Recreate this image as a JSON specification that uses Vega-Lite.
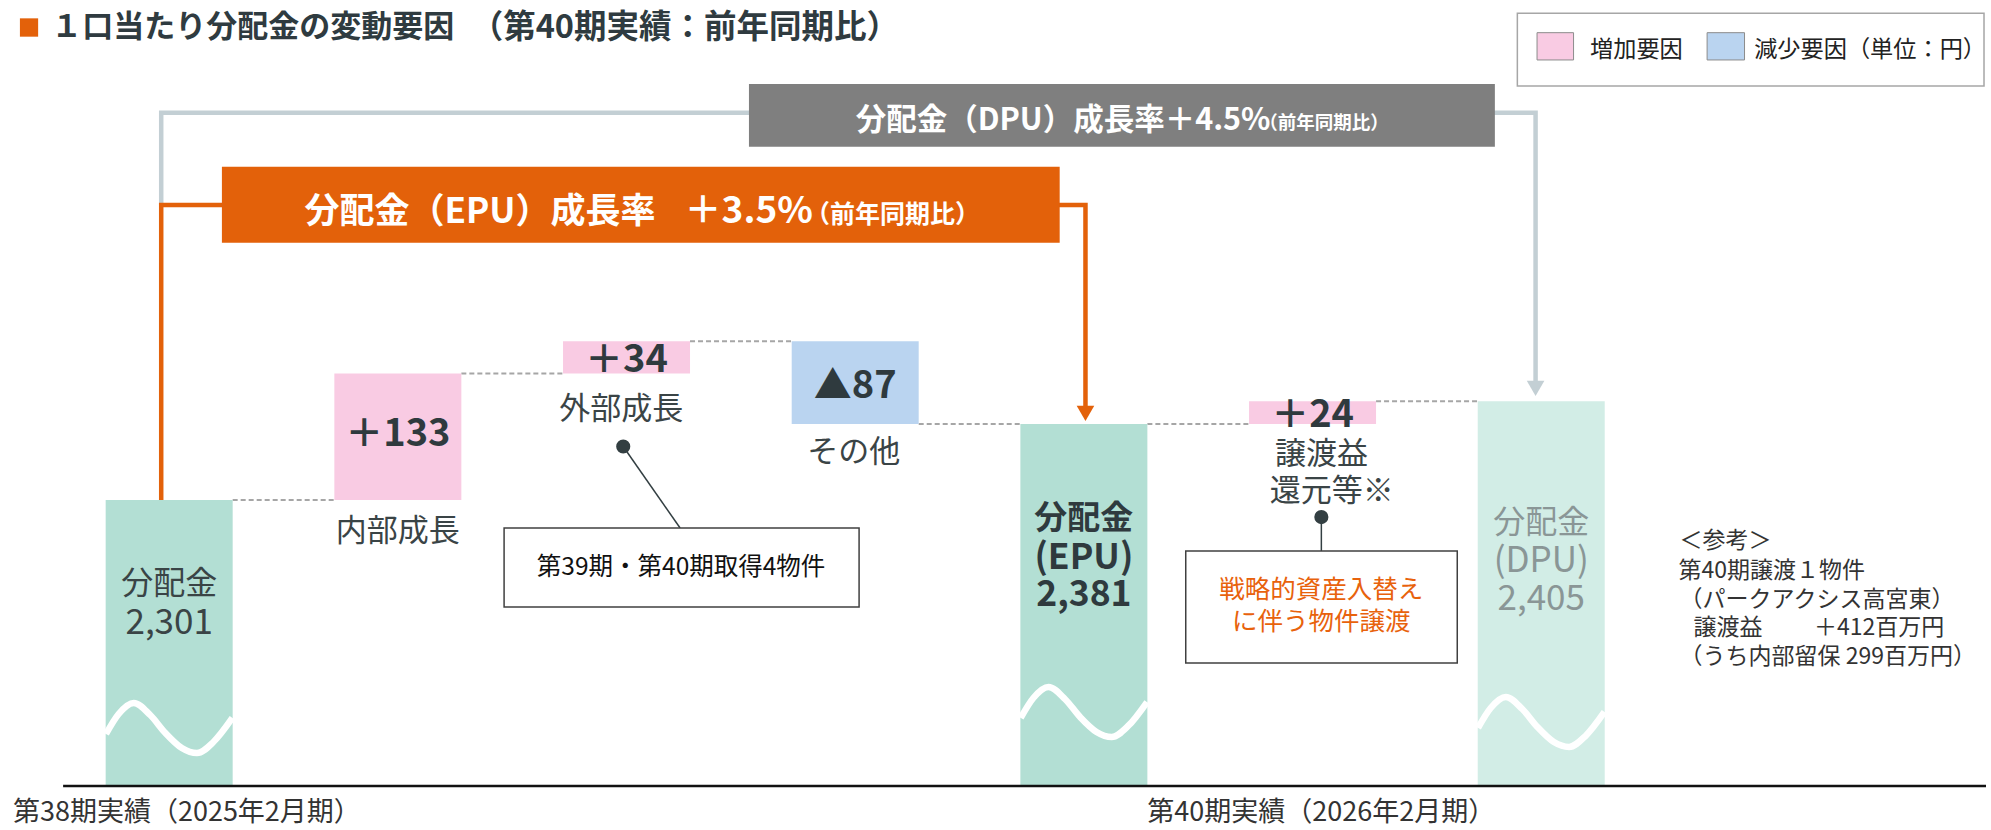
{
  "$schema": "https://vega.github.io/schema/vega-lite/v6.json",
  "width": 1991,
  "height": 830,
  "padding": 0,
  "autosize": {"type": "none"},
  "background": "#ffffff",
  "config": {"view": {"stroke": null}, "font": "Noto Sans CJK JP"},
  "datasets": {
    "bars": [
      {"x": 0, "y": 2000, "y2": 2301, "t": "total"},
      {"x": 1, "y": 2301, "y2": 2434, "t": "inc"},
      {"x": 2, "y": 2434, "y2": 2468, "t": "inc"},
      {"x": 3, "y": 2381, "y2": 2468, "t": "dec"},
      {"x": 4, "y": 2000, "y2": 2381, "t": "total"},
      {"x": 5, "y": 2381, "y2": 2405, "t": "inc"},
      {"x": 6, "y": 2000, "y2": 2405, "t": "dpu"}
    ],
    "links": [
      {"x": 0, "x2": 1, "y": 2301},
      {"x": 1, "x2": 2, "y": 2434},
      {"x": 2, "x2": 3, "y": 2468},
      {"x": 3, "x2": 4, "y": 2381},
      {"x": 4, "x2": 5, "y": 2381},
      {"x": 5, "x2": 6, "y": 2405}
    ],
    "waves": [
      {"w": "a", "x": -0.2763, "y": 2054.7}, {"w": "a", "x": -0.2210, "y": 2075.8}, {"w": "a", "x": -0.1547, "y": 2087.4},
      {"w": "a", "x": -0.0829, "y": 2074.7}, {"w": "a", "x": -0.0166, "y": 2055.8}, {"w": "a", "x": 0.0553, "y": 2040.0},
      {"w": "a", "x": 0.1216, "y": 2034.7}, {"w": "a", "x": 0.1934, "y": 2046.3}, {"w": "a", "x": 0.2763, "y": 2071.6},
      {"w": "b", "x": 3.7237, "y": 2071.6}, {"w": "b", "x": 3.7790, "y": 2092.6}, {"w": "b", "x": 3.8453, "y": 2104.2},
      {"w": "b", "x": 3.9171, "y": 2091.6}, {"w": "b", "x": 3.9834, "y": 2072.6}, {"w": "b", "x": 4.0553, "y": 2056.9},
      {"w": "b", "x": 4.1216, "y": 2051.6}, {"w": "b", "x": 4.1934, "y": 2063.2}, {"w": "b", "x": 4.2763, "y": 2088.4},
      {"w": "c", "x": 5.7237, "y": 2061.1}, {"w": "c", "x": 5.7790, "y": 2082.1}, {"w": "c", "x": 5.8453, "y": 2093.7},
      {"w": "c", "x": 5.9171, "y": 2081.0}, {"w": "c", "x": 5.9834, "y": 2062.1}, {"w": "c", "x": 6.0553, "y": 2046.3},
      {"w": "c", "x": 6.1216, "y": 2041.1}, {"w": "c", "x": 6.1934, "y": 2052.6}, {"w": "c", "x": 6.2763, "y": 2077.9}
    ],
    "paths": [
      {"k": "gray", "o": 1, "x": -0.0348, "y": 2611.5},
      {"k": "gray", "o": 2, "x": -0.0348, "y": 2708.5},
      {"k": "gray", "o": 3, "x": 5.9753, "y": 2708.5},
      {"k": "gray", "o": 4, "x": 5.9753, "y": 2423.1},
      {"k": "orange", "o": 1, "x": -0.0348, "y": 2301},
      {"k": "orange", "o": 2, "x": -0.0348, "y": 2611.5},
      {"k": "orange", "o": 3, "x": 4.007, "y": 2611.5},
      {"k": "orange", "o": 4, "x": 4.007, "y": 2398}
    ],
    "heads": [
      {"k": "gray", "x": 5.9753, "y": 2418.4},
      {"k": "orange", "x": 4.007, "y": 2392.1}
    ],
    "boxes": [
      {"k": "gray", "x": 2.5354, "x2": 5.7973, "y": 2738.8, "y2": 2672.8},
      {"k": "orange", "x": 0.2306, "x2": 3.8942, "y": 2651.8, "y2": 2571.8},
      {"k": "sq", "x": -0.6527, "x2": -0.5730, "y": 2807.9, "y2": 2788.6},
      {"k": "legend", "x": 5.8956, "x2": 7.9363, "y": 2813.2, "y2": 2736.7},
      {"k": "inc", "x": 5.9817, "x2": 6.1414, "y": 2792.8, "y2": 2764.1},
      {"k": "dec", "x": 6.7254, "x2": 6.8890, "y": 2792.8, "y2": 2764.1},
      {"k": "call", "x": 1.4646, "x2": 3.0170, "y": 2271.5, "y2": 2188.4},
      {"k": "call", "x": 4.4455, "x2": 5.6328, "y": 2247.3, "y2": 2129.5}
    ],
    "rules": [
      {"x": -0.4638, "x2": 7.945, "y": 2000}
    ],
    "leaders": [
      {"x": 1.9856, "y": 2357.3, "x2": 2.2343, "y2": 2271.5},
      {"x": 5.0385, "y": 2283.0, "x2": 5.0385, "y2": 2247.3}
    ],
    "dots": [
      {"x": 1.9856, "y": 2357.3},
      {"x": 5.0385, "y": 2283.0}
    ],
    "notes": [
      {"k": "title", "x": -0.5156, "y": 2797.4, "t": "１口当たり分配金の変動要因"},
      {"k": "title2", "x": 1.3184, "y": 2797.4, "t": "（第40期実績：前年同期比）"},
      {"k": "legend", "x": 6.2135, "y": 2775.1, "t": "増加要因"},
      {"k": "legend", "x": 6.9312, "y": 2775.1, "t": "減少要因（単位：円）"},
      {"k": "grayMain", "x": 3.0022, "y": 2690.6, "t": "分配金（DPU）成長率＋4.5%"},
      {"k": "graySmall", "x": 4.7671, "y": 2691.5, "t": "（前年同期比）"},
      {"k": "orMain", "x": 0.5917, "y": 2592.5, "t": "分配金（EPU）成長率"},
      {"k": "orPct", "x": 2.2538, "y": 2592.5, "t": "＋3.5%"},
      {"k": "orSmall", "x": 2.7804, "y": 2592.5, "t": "（前年同期比）"},
      {"k": "val", "x": 1, "y": 2368.9, "t": "＋133"},
      {"k": "val", "x": 2, "y": 2447.3, "t": "＋34"},
      {"k": "val", "x": 3, "y": 2419.9, "t": "▲87"},
      {"k": "val", "x": 5, "y": 2389.3, "t": "＋24"},
      {"k": "cat", "x": 1, "y": 2267.5, "t": "内部成長"},
      {"k": "cat", "x": 1.9772, "y": 2395.2, "t": "外部成長"},
      {"k": "cat", "x": 2.9937, "y": 2350.5, "t": "その他"},
      {"k": "cat", "x": 5.0387, "y": 2348.3, "t": "譲渡益"},
      {"k": "cat", "x": 5.0842, "y": 2309.2, "t": "還元等※"},
      {"k": "tot", "x": 0, "y": 2212.6, "t": "分配金"},
      {"k": "totNum", "x": 0, "y": 2171.5, "t": "2,301"},
      {"k": "totB", "x": 4, "y": 2281.5, "t": "分配金"},
      {"k": "totBNum", "x": 4, "y": 2240.0, "t": "(EPU)"},
      {"k": "totBNum", "x": 4, "y": 2201.0, "t": "2,381"},
      {"k": "totG", "x": 6, "y": 2277.3, "t": "分配金"},
      {"k": "totGNum", "x": 6, "y": 2236.3, "t": "(DPU)"},
      {"k": "totGNum", "x": 6, "y": 2196.3, "t": "2,405"},
      {"k": "call", "x": 2.2386, "y": 2229.9, "t": "第39期・第40期取得4物件"},
      {"k": "callO", "x": 5.0385, "y": 2206.3, "t": "戦略的資産入替え"},
      {"k": "callO", "x": 5.0385, "y": 2172.6, "t": "に伴う物件譲渡"},
      {"k": "ref", "x": 6.6049, "y": 2257.8, "t": "＜参考＞"},
      {"k": "ref", "x": 6.6005, "y": 2226.3, "t": "第40期譲渡１物件"},
      {"k": "ref", "x": 6.6049, "y": 2195.8, "t": "（パークアクシス高宮東）"},
      {"k": "ref", "x": 6.6658, "y": 2166.3, "t": "譲渡益"},
      {"k": "ref", "x": 7.1923, "y": 2166.3, "t": "＋412百万円"},
      {"k": "ref", "x": 6.6049, "y": 2136.1, "t": "（うち内部留保 299百万円）"},
      {"k": "period", "x": -0.6831, "y": 1971.6, "t": "第38期実績（2025年2月期）"},
      {"k": "period", "x": 4.2771, "y": 1971.6, "t": "第40期実績（2026年2月期）"}
    ]
  },
  "layer": [
    {
      "data": {"name": "paths"},
      "transform": [{"filter": "datum.k == 'gray'"}],
      "mark": {"type": "line", "color": "#c3cfd4", "strokeWidth": 4.5, "strokeJoin": "miter"},
      "encoding": {
        "x": {"field": "x", "type": "quantitative", "scale": {"domain": [-0.71792, 7.945], "nice": false, "zero": false}, "axis": null},
        "y": {"field": "y", "type": "quantitative", "scale": {"domain": [1953.7, 2827.2], "nice": false, "zero": false}, "axis": null},
        "order": {"field": "o"}
      }
    },
    {
      "data": {"name": "paths"},
      "transform": [{"filter": "datum.k == 'orange'"}],
      "mark": {"type": "line", "color": "#e3610a", "strokeWidth": 4.5, "strokeJoin": "miter"},
      "encoding": {
        "x": {"field": "x", "type": "quantitative", "scale": {"domain": [-0.71792, 7.945], "nice": false, "zero": false}, "axis": null},
        "y": {"field": "y", "type": "quantitative", "scale": {"domain": [1953.7, 2827.2], "nice": false, "zero": false}, "axis": null},
        "order": {"field": "o"}
      }
    },
    {
      "data": {"name": "boxes"},
      "transform": [{"filter": "datum.k == 'gray'"}],
      "mark": {"type": "rect", "fill": "#7f7f7f"},
      "encoding": {
        "x": {"field": "x", "type": "quantitative", "scale": {"domain": [-0.71792, 7.945], "nice": false, "zero": false}, "axis": null},
        "x2": {"field": "x2"},
        "y": {"field": "y", "type": "quantitative", "scale": {"domain": [1953.7, 2827.2], "nice": false, "zero": false}, "axis": null},
        "y2": {"field": "y2"}
      }
    },
    {
      "data": {"name": "boxes"},
      "transform": [{"filter": "datum.k == 'orange' || datum.k == 'sq'"}],
      "mark": {"type": "rect", "fill": "#e3610a"},
      "encoding": {
        "x": {"field": "x", "type": "quantitative", "scale": {"domain": [-0.71792, 7.945], "nice": false, "zero": false}, "axis": null},
        "x2": {"field": "x2"},
        "y": {"field": "y", "type": "quantitative", "scale": {"domain": [1953.7, 2827.2], "nice": false, "zero": false}, "axis": null},
        "y2": {"field": "y2"}
      }
    },
    {
      "data": {"name": "links"},
      "mark": {"type": "rule", "color": "#a6a6a6", "strokeWidth": 2, "strokeDash": [5, 3], "xOffset": 63.5, "x2Offset": -63.5},
      "encoding": {
        "x": {"field": "x", "type": "quantitative", "scale": {"domain": [-0.71792, 7.945], "nice": false, "zero": false}, "axis": null},
        "x2": {"field": "x2"},
        "y": {"field": "y", "type": "quantitative", "scale": {"domain": [1953.7, 2827.2], "nice": false, "zero": false}, "axis": null}
      }
    },
    {
      "data": {"name": "bars"},
      "mark": {"type": "bar", "width": 127},
      "encoding": {
        "x": {"field": "x", "type": "quantitative", "scale": {"domain": [-0.71792, 7.945], "nice": false, "zero": false}, "axis": null},
        "y": {"field": "y", "type": "quantitative", "scale": {"domain": [1953.7, 2827.2], "nice": false, "zero": false}, "axis": null},
        "y2": {"field": "y2"},
        "color": {"field": "t", "type": "nominal", "legend": null, "scale": {"domain": ["total", "inc", "dec", "dpu"], "range": ["#b3dfd4", "#f9cbe3", "#bad4f0", "#d2ede6"]}}
      }
    },
    {
      "data": {"name": "waves"},
      "mark": {"type": "line", "color": "#ffffff", "strokeWidth": 6.5, "interpolate": "monotone"},
      "encoding": {
        "x": {"field": "x", "type": "quantitative", "scale": {"domain": [-0.71792, 7.945], "nice": false, "zero": false}, "axis": null},
        "y": {"field": "y", "type": "quantitative", "scale": {"domain": [1953.7, 2827.2], "nice": false, "zero": false}, "axis": null},
        "detail": {"field": "w"}
      }
    },
    {
      "data": {"name": "rules"},
      "mark": {"type": "rule", "color": "#111111", "strokeWidth": 2.5},
      "encoding": {
        "x": {"field": "x", "type": "quantitative", "scale": {"domain": [-0.71792, 7.945], "nice": false, "zero": false}, "axis": null},
        "x2": {"field": "x2"},
        "y": {"field": "y", "type": "quantitative", "scale": {"domain": [1953.7, 2827.2], "nice": false, "zero": false}, "axis": null}
      }
    },
    {
      "data": {"name": "heads"},
      "transform": [{"filter": "datum.k == 'gray'"}],
      "mark": {"type": "point", "shape": "triangle-down", "filled": true, "opacity": 1, "color": "#c3cfd4", "size": 310},
      "encoding": {
        "x": {"field": "x", "type": "quantitative", "scale": {"domain": [-0.71792, 7.945], "nice": false, "zero": false}, "axis": null},
        "y": {"field": "y", "type": "quantitative", "scale": {"domain": [1953.7, 2827.2], "nice": false, "zero": false}, "axis": null}
      }
    },
    {
      "data": {"name": "heads"},
      "transform": [{"filter": "datum.k == 'orange'"}],
      "mark": {"type": "point", "shape": "triangle-down", "filled": true, "opacity": 1, "color": "#e3610a", "size": 310},
      "encoding": {
        "x": {"field": "x", "type": "quantitative", "scale": {"domain": [-0.71792, 7.945], "nice": false, "zero": false}, "axis": null},
        "y": {"field": "y", "type": "quantitative", "scale": {"domain": [1953.7, 2827.2], "nice": false, "zero": false}, "axis": null}
      }
    },
    {
      "data": {"name": "leaders"},
      "mark": {"type": "rule", "color": "#333f42", "strokeWidth": 1.5},
      "encoding": {
        "x": {"field": "x", "type": "quantitative", "scale": {"domain": [-0.71792, 7.945], "nice": false, "zero": false}, "axis": null},
        "x2": {"field": "x2"},
        "y": {"field": "y", "type": "quantitative", "scale": {"domain": [1953.7, 2827.2], "nice": false, "zero": false}, "axis": null},
        "y2": {"field": "y2"}
      }
    },
    {
      "data": {"name": "dots"},
      "mark": {"type": "point", "shape": "circle", "filled": true, "opacity": 1, "color": "#333f42", "size": 200},
      "encoding": {
        "x": {"field": "x", "type": "quantitative", "scale": {"domain": [-0.71792, 7.945], "nice": false, "zero": false}, "axis": null},
        "y": {"field": "y", "type": "quantitative", "scale": {"domain": [1953.7, 2827.2], "nice": false, "zero": false}, "axis": null}
      }
    },
    {
      "data": {"name": "boxes"},
      "transform": [{"filter": "datum.k == 'call'"}],
      "mark": {"type": "rect", "fill": "#ffffff", "stroke": "#404040", "strokeWidth": 1.5},
      "encoding": {
        "x": {"field": "x", "type": "quantitative", "scale": {"domain": [-0.71792, 7.945], "nice": false, "zero": false}, "axis": null},
        "x2": {"field": "x2"},
        "y": {"field": "y", "type": "quantitative", "scale": {"domain": [1953.7, 2827.2], "nice": false, "zero": false}, "axis": null},
        "y2": {"field": "y2"}
      }
    },
    {
      "data": {"name": "boxes"},
      "transform": [{"filter": "datum.k == 'legend'"}],
      "mark": {"type": "rect", "fill": "#ffffff", "stroke": "#a6a6a6", "strokeWidth": 1.5},
      "encoding": {
        "x": {"field": "x", "type": "quantitative", "scale": {"domain": [-0.71792, 7.945], "nice": false, "zero": false}, "axis": null},
        "x2": {"field": "x2"},
        "y": {"field": "y", "type": "quantitative", "scale": {"domain": [1953.7, 2827.2], "nice": false, "zero": false}, "axis": null},
        "y2": {"field": "y2"}
      }
    },
    {
      "data": {"name": "boxes"},
      "transform": [{"filter": "datum.k == 'inc' || datum.k == 'dec'"}],
      "mark": {"type": "rect", "stroke": "#8c8c8c", "strokeWidth": 1},
      "encoding": {
        "x": {"field": "x", "type": "quantitative", "scale": {"domain": [-0.71792, 7.945], "nice": false, "zero": false}, "axis": null},
        "x2": {"field": "x2"},
        "y": {"field": "y", "type": "quantitative", "scale": {"domain": [1953.7, 2827.2], "nice": false, "zero": false}, "axis": null},
        "y2": {"field": "y2"},
        "fill": {"field": "k", "type": "nominal", "legend": null, "scale": {"domain": ["inc", "dec"], "range": ["#f9cbe3", "#bad4f0"]}}
      }
    },
    {
      "data": {"name": "notes"},
      "transform": [{"filter": "datum.k == 'title'"}],
      "mark": {"type": "text", "align": "left", "baseline": "middle", "fontSize": 31, "fontWeight": "bold", "color": "#2f3b40"},
      "encoding": {
        "x": {"field": "x", "type": "quantitative", "scale": {"domain": [-0.71792, 7.945], "nice": false, "zero": false}, "axis": null},
        "y": {"field": "y", "type": "quantitative", "scale": {"domain": [1953.7, 2827.2], "nice": false, "zero": false}, "axis": null},
        "text": {"field": "t"}
      }
    },
    {
      "data": {"name": "notes"},
      "transform": [{"filter": "datum.k == 'title2'"}],
      "mark": {"type": "text", "align": "left", "baseline": "middle", "fontSize": 32.5, "fontWeight": "bold", "color": "#2f3b40"},
      "encoding": {
        "x": {"field": "x", "type": "quantitative", "scale": {"domain": [-0.71792, 7.945], "nice": false, "zero": false}, "axis": null},
        "y": {"field": "y", "type": "quantitative", "scale": {"domain": [1953.7, 2827.2], "nice": false, "zero": false}, "axis": null},
        "text": {"field": "t"}
      }
    },
    {
      "data": {"name": "notes"},
      "transform": [{"filter": "datum.k == 'legend'"}],
      "mark": {"type": "text", "align": "left", "baseline": "middle", "fontSize": 23.2, "color": "#222222"},
      "encoding": {
        "x": {"field": "x", "type": "quantitative", "scale": {"domain": [-0.71792, 7.945], "nice": false, "zero": false}, "axis": null},
        "y": {"field": "y", "type": "quantitative", "scale": {"domain": [1953.7, 2827.2], "nice": false, "zero": false}, "axis": null},
        "text": {"field": "t"}
      }
    },
    {
      "data": {"name": "notes"},
      "transform": [{"filter": "datum.k == 'grayMain'"}],
      "mark": {"type": "text", "align": "left", "baseline": "alphabetic", "fontSize": 30.5, "fontWeight": "bold", "color": "#ffffff"},
      "encoding": {
        "x": {"field": "x", "type": "quantitative", "scale": {"domain": [-0.71792, 7.945], "nice": false, "zero": false}, "axis": null},
        "y": {"field": "y", "type": "quantitative", "scale": {"domain": [1953.7, 2827.2], "nice": false, "zero": false}, "axis": null},
        "text": {"field": "t"}
      }
    },
    {
      "data": {"name": "notes"},
      "transform": [{"filter": "datum.k == 'graySmall'"}],
      "mark": {"type": "text", "align": "left", "baseline": "alphabetic", "fontSize": 18.5, "fontWeight": "bold", "color": "#ffffff"},
      "encoding": {
        "x": {"field": "x", "type": "quantitative", "scale": {"domain": [-0.71792, 7.945], "nice": false, "zero": false}, "axis": null},
        "y": {"field": "y", "type": "quantitative", "scale": {"domain": [1953.7, 2827.2], "nice": false, "zero": false}, "axis": null},
        "text": {"field": "t"}
      }
    },
    {
      "data": {"name": "notes"},
      "transform": [{"filter": "datum.k == 'orMain'"}],
      "mark": {"type": "text", "align": "left", "baseline": "alphabetic", "fontSize": 35, "fontWeight": "bold", "color": "#ffffff"},
      "encoding": {
        "x": {"field": "x", "type": "quantitative", "scale": {"domain": [-0.71792, 7.945], "nice": false, "zero": false}, "axis": null},
        "y": {"field": "y", "type": "quantitative", "scale": {"domain": [1953.7, 2827.2], "nice": false, "zero": false}, "axis": null},
        "text": {"field": "t"}
      }
    },
    {
      "data": {"name": "notes"},
      "transform": [{"filter": "datum.k == 'orPct'"}],
      "mark": {"type": "text", "align": "left", "baseline": "alphabetic", "fontSize": 37, "fontWeight": "bold", "color": "#ffffff"},
      "encoding": {
        "x": {"field": "x", "type": "quantitative", "scale": {"domain": [-0.71792, 7.945], "nice": false, "zero": false}, "axis": null},
        "y": {"field": "y", "type": "quantitative", "scale": {"domain": [1953.7, 2827.2], "nice": false, "zero": false}, "axis": null},
        "text": {"field": "t"}
      }
    },
    {
      "data": {"name": "notes"},
      "transform": [{"filter": "datum.k == 'orSmall'"}],
      "mark": {"type": "text", "align": "left", "baseline": "alphabetic", "fontSize": 25, "fontWeight": "bold", "color": "#ffffff"},
      "encoding": {
        "x": {"field": "x", "type": "quantitative", "scale": {"domain": [-0.71792, 7.945], "nice": false, "zero": false}, "axis": null},
        "y": {"field": "y", "type": "quantitative", "scale": {"domain": [1953.7, 2827.2], "nice": false, "zero": false}, "axis": null},
        "text": {"field": "t"}
      }
    },
    {
      "data": {"name": "notes"},
      "transform": [{"filter": "datum.k == 'val'"}],
      "mark": {"type": "text", "align": "center", "baseline": "middle", "fontSize": 38, "fontWeight": "bold", "color": "#2f3a3e"},
      "encoding": {
        "x": {"field": "x", "type": "quantitative", "scale": {"domain": [-0.71792, 7.945], "nice": false, "zero": false}, "axis": null},
        "y": {"field": "y", "type": "quantitative", "scale": {"domain": [1953.7, 2827.2], "nice": false, "zero": false}, "axis": null},
        "text": {"field": "t"}
      }
    },
    {
      "data": {"name": "notes"},
      "transform": [{"filter": "datum.k == 'cat'"}],
      "mark": {"type": "text", "align": "center", "baseline": "middle", "fontSize": 31, "color": "#3a4446"},
      "encoding": {
        "x": {"field": "x", "type": "quantitative", "scale": {"domain": [-0.71792, 7.945], "nice": false, "zero": false}, "axis": null},
        "y": {"field": "y", "type": "quantitative", "scale": {"domain": [1953.7, 2827.2], "nice": false, "zero": false}, "axis": null},
        "text": {"field": "t"}
      }
    },
    {
      "data": {"name": "notes"},
      "transform": [{"filter": "datum.k == 'tot'"}],
      "mark": {"type": "text", "align": "center", "baseline": "middle", "fontSize": 32, "color": "#3a4446"},
      "encoding": {
        "x": {"field": "x", "type": "quantitative", "scale": {"domain": [-0.71792, 7.945], "nice": false, "zero": false}, "axis": null},
        "y": {"field": "y", "type": "quantitative", "scale": {"domain": [1953.7, 2827.2], "nice": false, "zero": false}, "axis": null},
        "text": {"field": "t"}
      }
    },
    {
      "data": {"name": "notes"},
      "transform": [{"filter": "datum.k == 'totNum'"}],
      "mark": {"type": "text", "align": "center", "baseline": "middle", "fontSize": 35, "color": "#3a4446"},
      "encoding": {
        "x": {"field": "x", "type": "quantitative", "scale": {"domain": [-0.71792, 7.945], "nice": false, "zero": false}, "axis": null},
        "y": {"field": "y", "type": "quantitative", "scale": {"domain": [1953.7, 2827.2], "nice": false, "zero": false}, "axis": null},
        "text": {"field": "t"}
      }
    },
    {
      "data": {"name": "notes"},
      "transform": [{"filter": "datum.k == 'totB'"}],
      "mark": {"type": "text", "align": "center", "baseline": "middle", "fontSize": 33, "fontWeight": "bold", "color": "#2f3a3e"},
      "encoding": {
        "x": {"field": "x", "type": "quantitative", "scale": {"domain": [-0.71792, 7.945], "nice": false, "zero": false}, "axis": null},
        "y": {"field": "y", "type": "quantitative", "scale": {"domain": [1953.7, 2827.2], "nice": false, "zero": false}, "axis": null},
        "text": {"field": "t"}
      }
    },
    {
      "data": {"name": "notes"},
      "transform": [{"filter": "datum.k == 'totBNum'"}],
      "mark": {"type": "text", "align": "center", "baseline": "middle", "fontSize": 35.5, "fontWeight": "bold", "color": "#2f3a3e"},
      "encoding": {
        "x": {"field": "x", "type": "quantitative", "scale": {"domain": [-0.71792, 7.945], "nice": false, "zero": false}, "axis": null},
        "y": {"field": "y", "type": "quantitative", "scale": {"domain": [1953.7, 2827.2], "nice": false, "zero": false}, "axis": null},
        "text": {"field": "t"}
      }
    },
    {
      "data": {"name": "notes"},
      "transform": [{"filter": "datum.k == 'totG'"}],
      "mark": {"type": "text", "align": "center", "baseline": "middle", "fontSize": 32, "color": "#8a9696"},
      "encoding": {
        "x": {"field": "x", "type": "quantitative", "scale": {"domain": [-0.71792, 7.945], "nice": false, "zero": false}, "axis": null},
        "y": {"field": "y", "type": "quantitative", "scale": {"domain": [1953.7, 2827.2], "nice": false, "zero": false}, "axis": null},
        "text": {"field": "t"}
      }
    },
    {
      "data": {"name": "notes"},
      "transform": [{"filter": "datum.k == 'totGNum'"}],
      "mark": {"type": "text", "align": "center", "baseline": "middle", "fontSize": 35, "color": "#8a9696"},
      "encoding": {
        "x": {"field": "x", "type": "quantitative", "scale": {"domain": [-0.71792, 7.945], "nice": false, "zero": false}, "axis": null},
        "y": {"field": "y", "type": "quantitative", "scale": {"domain": [1953.7, 2827.2], "nice": false, "zero": false}, "axis": null},
        "text": {"field": "t"}
      }
    },
    {
      "data": {"name": "notes"},
      "transform": [{"filter": "datum.k == 'call'"}],
      "mark": {"type": "text", "align": "center", "baseline": "middle", "fontSize": 24.5, "color": "#111111"},
      "encoding": {
        "x": {"field": "x", "type": "quantitative", "scale": {"domain": [-0.71792, 7.945], "nice": false, "zero": false}, "axis": null},
        "y": {"field": "y", "type": "quantitative", "scale": {"domain": [1953.7, 2827.2], "nice": false, "zero": false}, "axis": null},
        "text": {"field": "t"}
      }
    },
    {
      "data": {"name": "notes"},
      "transform": [{"filter": "datum.k == 'callO'"}],
      "mark": {"type": "text", "align": "center", "baseline": "middle", "fontSize": 25.5, "color": "#e8620c"},
      "encoding": {
        "x": {"field": "x", "type": "quantitative", "scale": {"domain": [-0.71792, 7.945], "nice": false, "zero": false}, "axis": null},
        "y": {"field": "y", "type": "quantitative", "scale": {"domain": [1953.7, 2827.2], "nice": false, "zero": false}, "axis": null},
        "text": {"field": "t"}
      }
    },
    {
      "data": {"name": "notes"},
      "transform": [{"filter": "datum.k == 'ref'"}],
      "mark": {"type": "text", "align": "left", "baseline": "middle", "fontSize": 23, "color": "#333333"},
      "encoding": {
        "x": {"field": "x", "type": "quantitative", "scale": {"domain": [-0.71792, 7.945], "nice": false, "zero": false}, "axis": null},
        "y": {"field": "y", "type": "quantitative", "scale": {"domain": [1953.7, 2827.2], "nice": false, "zero": false}, "axis": null},
        "text": {"field": "t"}
      }
    },
    {
      "data": {"name": "notes"},
      "transform": [{"filter": "datum.k == 'period'"}],
      "mark": {"type": "text", "align": "left", "baseline": "middle", "fontSize": 27, "color": "#333333"},
      "encoding": {
        "x": {"field": "x", "type": "quantitative", "scale": {"domain": [-0.71792, 7.945], "nice": false, "zero": false}, "axis": null},
        "y": {"field": "y", "type": "quantitative", "scale": {"domain": [1953.7, 2827.2], "nice": false, "zero": false}, "axis": null},
        "text": {"field": "t"}
      }
    }
  ]
}
